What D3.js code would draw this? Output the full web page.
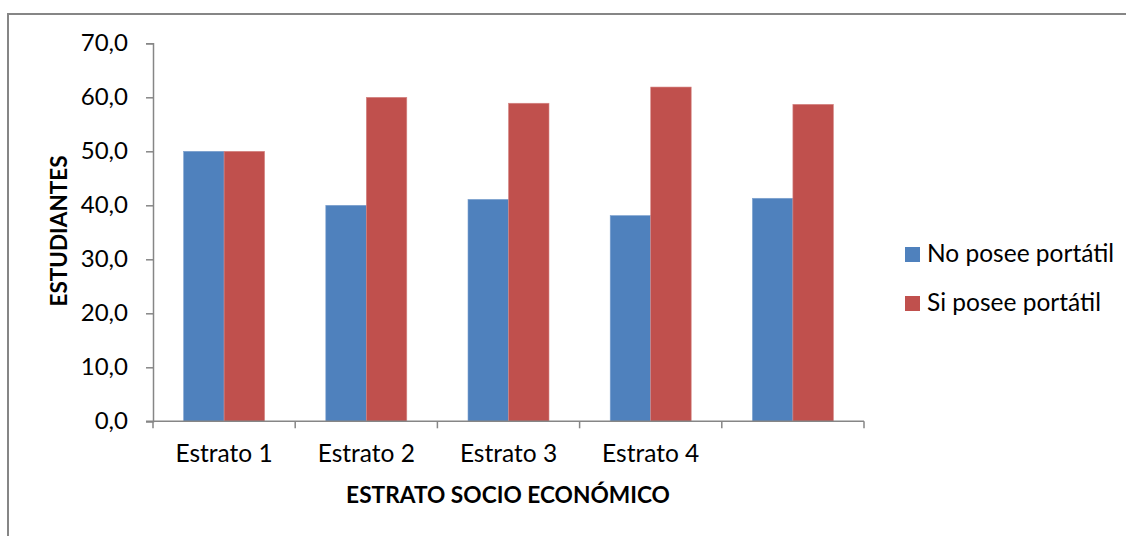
<!DOCTYPE html>
<html>
<head>
<meta charset="utf-8">
<script src="https://cdn.jsdelivr.net/npm/d3@7"></script>
<style>
  html, body { margin: 0; padding: 0; background: #fff; }
  svg { display: block; }
  text { font-family: Lato, "Open Sans", sans-serif; fill: #000; }
</style>
</head>
<body>
<svg id="chart" width="1126" height="536"></svg>
<script>
const categories = ["Estrato 1", "Estrato 2", "Estrato 3", "Estrato 4", ""];
const seriesNames = ["No posee portátil", "Si posee portátil"];
const noPosee = [50.0, 40.0, 41.1, 38.1, 41.3];
const siPosee = [50.0, 60.0, 58.9, 61.9, 58.7];
const yTicks = [0, 10, 20, 30, 40, 50, 60, 70];
const colors = ["#4F81BD", "#C0504D"];

const svg = d3.select("#chart");
const axisColor = "#868686";

// outer border (extends off right/bottom)
svg.append("rect")
  .attr("x", 8).attr("y", 14)
  .attr("width", 1130).attr("height", 540)
  .attr("fill", "none").attr("stroke", axisColor).attr("stroke-width", 2);

const plotLeft = 153, plotRight = 864, plotTop = 43.3, plotBottom = 421.3;
const x = d3.scaleBand().domain(d3.range(categories.length)).range([plotLeft, plotRight]).paddingInner(0).paddingOuter(0);
const y = d3.scaleLinear().domain([0, 70]).range([plotBottom, plotTop]);
const barW = 40.5;

const data = categories.map((c, i) => ({ i, vals: [noPosee[i], siPosee[i]] }));

const g = svg.append("g");
data.forEach(d => {
  d.vals.forEach((v, s) => {
    const cx = x(d.i) + x.bandwidth() / 2;
    g.append("rect")
      .attr("x", cx - barW + s * barW)
      .attr("y", y(v))
      .attr("width", barW)
      .attr("height", y(0) - y(v))
      .attr("fill", colors[s])
      .attr("stroke", s === 0 ? "#7FA2CF" : "#D58785")
      .attr("stroke-width", 0.6);
  });
});

// Y axis
const yAxis = d3.axisLeft(y).tickValues(yTicks).tickSize(7).tickPadding(18)
  .tickFormat(d => d3.format(".1f")(d).replace(".", ","));
const ya = svg.append("g").attr("transform", `translate(${plotLeft},0)`).call(yAxis);
ya.select(".domain").attr("stroke", axisColor).attr("stroke-width", 1.5);
ya.selectAll(".tick line").attr("stroke", axisColor).attr("stroke-width", 1.5);
ya.selectAll(".tick text").style("font-size", "24px").attr("fill", "#000")
  .style("font-family", "Lato, sans-serif");

// X axis line with boundary ticks
const xa = svg.append("g");
xa.append("line").attr("x1", plotLeft - 7).attr("x2", plotRight).attr("y1", plotBottom).attr("y2", plotBottom)
  .attr("stroke", axisColor).attr("stroke-width", 1.5);
const bounds = d3.range(categories.length + 1).map(i => i < categories.length ? x(i) : x(categories.length - 1) + x.bandwidth());
xa.selectAll("line.b").data(bounds).enter().append("line")
  .attr("x1", d => d).attr("x2", d => d).attr("y1", plotBottom).attr("y2", plotBottom + 7)
  .attr("stroke", axisColor).attr("stroke-width", 1.5);
xa.selectAll("text.cat").data(categories).enter().append("text")
  .attr("x", (d, i) => x(i) + x.bandwidth() / 2)
  .attr("y", 462)
  .attr("text-anchor", "middle")
  .style("font-size", "24.5px")
  .text(d => d);

// Axis titles
svg.append("text")
  .attr("x", 508).attr("y", 503)
  .attr("text-anchor", "middle")
  .style("font-size", "22.7px").style("font-weight", "bold")
  .text("ESTRATO SOCIO ECONÓMICO");
svg.append("text")
  .attr("transform", "translate(67,231) rotate(-90)")
  .attr("text-anchor", "middle")
  .style("font-size", "22.5px").style("font-weight", "bold")
  .text("ESTUDIANTES");

// Legend
const legend = svg.append("g");
seriesNames.forEach((n, s) => {
  const yy = 247 + s * 49;
  legend.append("rect").attr("x", 905).attr("y", yy).attr("width", 15).attr("height", 15).attr("fill", colors[s]);
  legend.append("text").attr("x", 927).attr("y", yy + 15).style("font-size", "24.5px").text(n);
});
</script>
</body>
</html>
